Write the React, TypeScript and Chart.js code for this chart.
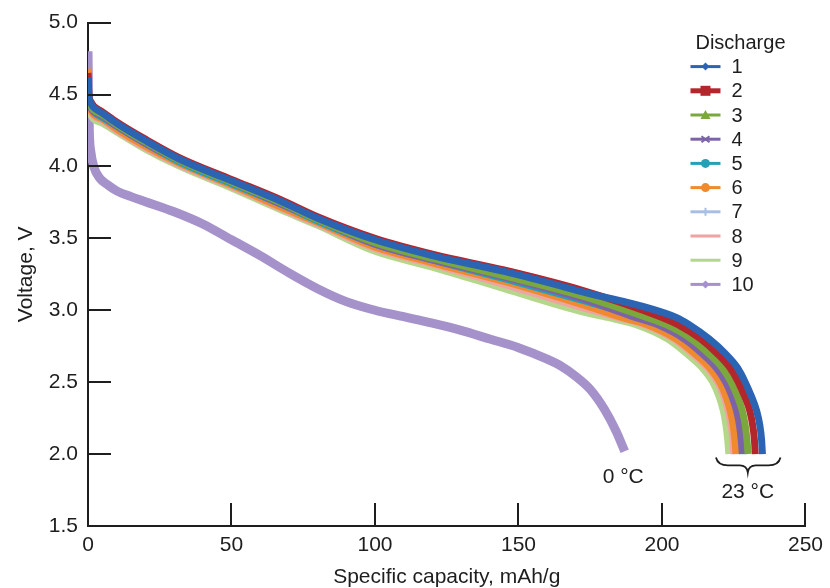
import React, { useEffect, useRef } from "react";
import { Chart, registerables } from "chart.js";

Chart.register(...registerables);

// ---------- data ----------
const seriesLabels = ["1", "2", "3", "4", "5", "6", "7", "8", "9", "10"];
const seriesColors = [
  "#2b64b3", "#b3262c", "#7aa83c", "#7c63a8", "#25a0b6",
  "#ef8a2e", "#a7bfe6", "#efa3a3", "#b4d78c", "#a692ca",
];
const legendMarkers = [
  "diamond", "square", "triangle", "cross", "circle",
  "circle", "plus", "none", "none", "diamond",
];
const legendTitle = "Discharge";

// 23 °C discharges: plateau voltages at shared capacities
const capPlateau = [0, 0.3, 1, 2, 5, 10, 20, 32, 50, 67, 80, 100, 120, 145, 172];
const plateau1 = [4.62, 4.49, 4.44, 4.41, 4.37, 4.30, 4.18, 4.05, 3.90, 3.76, 3.64, 3.49, 3.38, 3.27, 3.13];
const plateau2 = [4.65, 4.50, 4.45, 4.42, 4.38, 4.31, 4.19, 4.06, 3.91, 3.77, 3.65, 3.50, 3.39, 3.28, 3.14];
const plateau3 = [4.60, 4.48, 4.42, 4.39, 4.36, 4.29, 4.17, 4.04, 3.89, 3.75, 3.63, 3.47, 3.36, 3.24, 3.10];
const plateau4 = [4.58, 4.47, 4.41, 4.38, 4.35, 4.28, 4.16, 4.04, 3.89, 3.74, 3.63, 3.46, 3.35, 3.23, 3.08];
const plateau5 = [4.62, 4.46, 4.41, 4.38, 4.34, 4.28, 4.16, 4.03, 3.88, 3.74, 3.62, 3.46, 3.35, 3.22, 3.07];
const plateau6 = [4.68, 4.45, 4.39, 4.36, 4.33, 4.26, 4.14, 4.02, 3.87, 3.72, 3.61, 3.44, 3.33, 3.20, 3.04];
const plateau7 = [4.56, 4.45, 4.40, 4.37, 4.33, 4.27, 4.15, 4.02, 3.87, 3.73, 3.61, 3.45, 3.34, 3.20, 3.05];
const plateau8 = [4.57, 4.44, 4.38, 4.35, 4.32, 4.25, 4.13, 4.01, 3.86, 3.71, 3.60, 3.43, 3.32, 3.18, 3.02];
const plateau9 = [4.55, 4.42, 4.36, 4.33, 4.30, 4.24, 4.12, 4.00, 3.85, 3.70, 3.59, 3.41, 3.30, 3.15, 2.99];

// 23 °C discharges: capacities at shared tail voltages
const voltTail = [2.95, 2.9, 2.8, 2.7, 2.6, 2.5, 2.4, 2.3, 2.2, 2.1, 2.0];
const tail1 = [205, 209.5, 216.5, 222, 226.3, 229, 231.2, 233, 234.1, 234.7, 235];
const tail2 = [200, 205.6, 213.5, 219.2, 223.7, 226.6, 228.8, 230.6, 231.6, 232.2, 232.5];
const tail3 = [194.7, 201.5, 210.3, 216.2, 221, 224.1, 226.3, 228, 229, 229.6, 230];
const tail4 = [190.6, 198.4, 207.8, 213.9, 218.9, 222.2, 224.4, 226, 227, 227.6, 228];
const tail5 = [192.8, 200.1, 209.1, 215.1, 220, 223.2, 225.4, 227.1, 228.1, 228.7, 229];
const tail6 = [186, 194.9, 205, 211.3, 216.6, 220.1, 222.3, 223.8, 224.8, 225.4, 225.8];
const tail7 = [188.7, 196.9, 206.6, 212.8, 217.9, 221.3, 223.5, 225.1, 226.1, 226.7, 227];
const tail8 = [184.6, 193.8, 204.2, 210.5, 215.8, 219.4, 221.6, 223.1, 224.1, 224.7, 225];
const tail9 = [181, 191, 202, 208.5, 214, 217.7, 219.9, 221.4, 222.3, 222.9, 223.3];

// 0 °C discharge (10)
const cap10 = [0, 0.2, 0.5, 1, 2, 4, 7, 10, 15, 20, 30, 40, 50, 60, 70, 80, 90, 100, 110, 120, 130, 140, 150, 160, 165, 170, 175, 180, 184, 187];
const volt10 = [4.80, 4.50, 4.22, 4.10, 4.00, 3.92, 3.87, 3.83, 3.79, 3.755, 3.685, 3.60, 3.49, 3.38, 3.26, 3.15, 3.06, 3.00, 2.955, 2.91, 2.86, 2.80, 2.74, 2.66, 2.61, 2.54, 2.45, 2.31, 2.16, 2.02];

const plateaus = [plateau1, plateau2, plateau3, plateau4, plateau5, plateau6, plateau7, plateau8, plateau9];
const tails = [tail1, tail2, tail3, tail4, tail5, tail6, tail7, tail8, tail9];

// axes
const xTicks = [0, 50, 100, 150, 200, 250];
const yTicks = [1.5, 2.0, 2.5, 3.0, 3.5, 4.0, 4.5, 5.0];
const xTitle = "Specific capacity, mAh/g";
const yTitle = "Voltage, V";

// annotations (data units)
const coldLabel = { text: "0 °C", x: 186.5, y: 1.84 };
const roomLabel = { text: "23 °C", x: 229.9, y: 1.735 };
const braceX = [218.8, 229.9, 241.3];
const braceY = [1.976, 1.921, 1.873];

const FONT = "'Liberation Sans', Arial, Helvetica, sans-serif";
const INK = "#1e1e1e";

function drawMarker(ctx: CanvasRenderingContext2D, kind: string, x: number, y: number, color: string) {
  ctx.save();
  ctx.fillStyle = color;
  ctx.strokeStyle = color;
  ctx.lineWidth = 2;
  ctx.beginPath();
  if (kind === "diamond") {
    ctx.moveTo(x, y - 4); ctx.lineTo(x + 4, y); ctx.lineTo(x, y + 4); ctx.lineTo(x - 4, y); ctx.closePath(); ctx.fill();
  } else if (kind === "square") {
    ctx.rect(x - 5, y - 5, 10, 10); ctx.fill();
  } else if (kind === "triangle") {
    ctx.moveTo(x, y - 5); ctx.lineTo(x + 5, y + 4); ctx.lineTo(x - 5, y + 4); ctx.closePath(); ctx.fill();
  } else if (kind === "cross") {
    ctx.moveTo(x - 4, y - 3); ctx.lineTo(x + 4, y + 3); ctx.moveTo(x - 4, y + 3); ctx.lineTo(x + 4, y - 3); ctx.stroke();
  } else if (kind === "circle") {
    ctx.arc(x, y, 4.5, 0, Math.PI * 2); ctx.fill();
  } else if (kind === "plus") {
    ctx.moveTo(x, y - 4); ctx.lineTo(x, y + 4); ctx.stroke();
  }
  ctx.restore();
}

const overlayPlugin = {
  id: "overlay",
  afterDraw(chart: any) {
    const ctx: CanvasRenderingContext2D = chart.ctx;
    const xs = chart.scales.x;
    const ys = chart.scales.y;
    const area = chart.chartArea;
    ctx.save();
    // inward tick marks
    ctx.strokeStyle = INK;
    ctx.lineWidth = 2;
    xTicks.forEach((v) => {
      if (v === xs.min) return;
      const px = Math.round(xs.getPixelForValue(v));
      ctx.beginPath();
      ctx.moveTo(px, area.bottom);
      ctx.lineTo(px, area.bottom - 23);
      ctx.stroke();
    });
    yTicks.forEach((v) => {
      if (v === ys.min) return;
      const py = Math.round(ys.getPixelForValue(v));
      ctx.beginPath();
      ctx.moveTo(area.left, py);
      ctx.lineTo(area.left + 23, py);
      ctx.stroke();
    });

    // brace under 23 °C curves
    const bx0 = xs.getPixelForValue(braceX[0]);
    const bxm = xs.getPixelForValue(braceX[1]);
    const bx1 = xs.getPixelForValue(braceX[2]);
    const by0 = ys.getPixelForValue(braceY[0]);
    const bym = ys.getPixelForValue(braceY[1]);
    const byt = ys.getPixelForValue(braceY[2]);
    ctx.lineWidth = 1.8;
    ctx.beginPath();
    ctx.moveTo(bx0, by0);
    ctx.quadraticCurveTo(bx0 + 2, bym, bx0 + 12, bym);
    ctx.lineTo(bxm - 8, bym);
    ctx.quadraticCurveTo(bxm - 1, bym, bxm, byt);
    ctx.quadraticCurveTo(bxm + 1, bym, bxm + 8, bym);
    ctx.lineTo(bx1 - 12, bym);
    ctx.quadraticCurveTo(bx1 - 2, bym, bx1, by0);
    ctx.stroke();

    // temperature labels
    ctx.fillStyle = INK;
    ctx.font = `21px ${FONT}`;
    ctx.textAlign = "center";
    ctx.textBaseline = "middle";
    ctx.fillText(coldLabel.text, xs.getPixelForValue(coldLabel.x), ys.getPixelForValue(coldLabel.y));
    ctx.fillText(roomLabel.text, xs.getPixelForValue(roomLabel.x), ys.getPixelForValue(roomLabel.y));

    // legend
    const lx = area.right - 115;
    ctx.textAlign = "left";
    ctx.font = `20px ${FONT}`;
    ctx.fillText(legendTitle, lx + 5, area.top + 21);
    chart.data.datasets.forEach((ds: any, i: number) => {
      const y = area.top + 44 + i * 24.2;
      ctx.strokeStyle = ds.borderColor;
      ctx.lineWidth = i === 1 ? 5 : 3;
      ctx.beginPath();
      ctx.moveTo(lx, y);
      ctx.lineTo(lx + 30, y);
      ctx.stroke();
      drawMarker(ctx, legendMarkers[i], lx + 15, y, ds.borderColor);
      ctx.fillStyle = INK;
      ctx.fillText(ds.label, lx + 41, y + 1);
    });
    ctx.restore();
  },
};

export default function App() {
  const ref = useRef<HTMLCanvasElement | null>(null);
  useEffect(() => {
    document.body.style.margin = "0";
    if (!ref.current) return;
    const datasets: any[] = plateaus.map((pl, s) => ({
      label: seriesLabels[s],
      data: capPlateau
        .map((c, i) => ({ x: c, y: pl[i] }))
        .concat(voltTail.map((v, i) => ({ x: tails[s][i], y: v }))),
      borderColor: seriesColors[s],
      backgroundColor: seriesColors[s],
      borderWidth: 7,
      pointRadius: 0,
      cubicInterpolationMode: "monotone",
      fill: false,
    }));
    datasets.push({
      label: seriesLabels[9],
      data: cap10.map((c, i) => ({ x: c, y: volt10[i] })),
      borderColor: seriesColors[9],
      backgroundColor: seriesColors[9],
      borderWidth: 9,
      pointRadius: 0,
      cubicInterpolationMode: "monotone",
      fill: false,
    });

    const chart = new Chart(ref.current, {
      type: "line",
      data: { datasets },
      plugins: [overlayPlugin],
      options: {
        animation: false,
        responsive: false,
        devicePixelRatio: 1,
        layout: { padding: { left: 0, top: 19, right: 22, bottom: 0 } },
        plugins: { legend: { display: false }, tooltip: { enabled: false } },
        scales: {
          x: {
            type: "linear",
            min: 0,
            max: 250,
            afterFit: (s: any) => { s.height = 62; },
            afterBuildTicks: (s: any) => { s.ticks = xTicks.map((v) => ({ value: v })); },
            ticks: { color: INK, font: { size: 21, family: FONT }, padding: 7, maxRotation: 0 },
            grid: { display: false, drawTicks: false },
            border: { display: true, color: INK, width: 2 },
            title: { display: true, text: xTitle, color: INK, font: { size: 21, family: FONT, lineHeight: 1 }, padding: { top: 0, bottom: 0 } },
          },
          y: {
            type: "linear",
            min: 1.5,
            max: 5.0,
            afterFit: (s: any) => { s.width = 88; },
            afterBuildTicks: (s: any) => { s.ticks = yTicks.map((v) => ({ value: v })); },
            ticks: { color: INK, font: { size: 21, family: FONT }, padding: 10, callback: (v: any) => Number(v).toFixed(1) },
            grid: { display: false, drawTicks: false },
            border: { display: true, color: INK, width: 2 },
            title: { display: true, text: yTitle, color: INK, font: { size: 21, family: FONT, lineHeight: 1 }, padding: { top: 16, bottom: 0 } },
          },
        },
      } as any,
    });
    return () => chart.destroy();
  }, []);
  return (
    <div style={{ width: 830, height: 588 }}>
      <canvas ref={ref} width={830} height={588} style={{ width: 830, height: 588, display: "block" }} />
    </div>
  );
}
